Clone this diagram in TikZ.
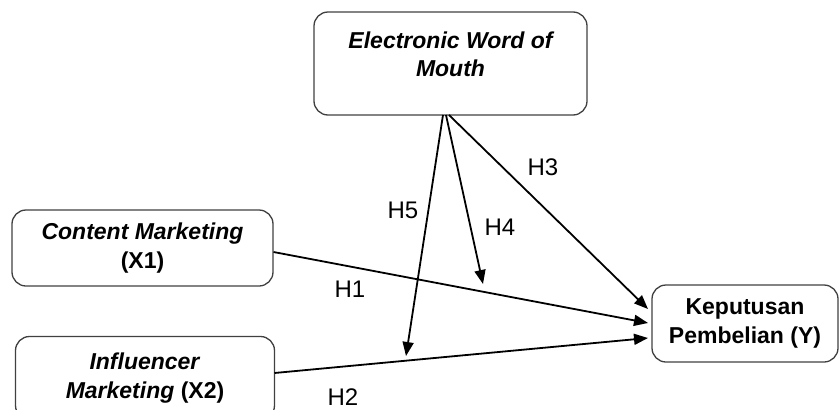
\documentclass[tikz,border=0pt]{standalone}
\usepackage{fontspec}
\setmainfont{Liberation Sans}
\usetikzlibrary{arrows.meta}
\begin{document}
\begin{tikzpicture}[x=1pt,y=-1pt,
  varbox/.style={draw=black!75, line width=1.3pt, rounded corners=14pt, inner sep=0pt, align=center, font=\fontsize{23}{29}\selectfont\bfseries},
  hyp/.style={font=\fontsize{24}{28}\selectfont, inner sep=0pt},
  conn/.style={line width=1.8pt, -{Triangle[length=14pt,width=11pt]}}]
\useasboundingbox (0,0) rectangle (839,410);
\clip (0,0) rectangle (839,410);
% boxes
\node[varbox, minimum width=273pt, minimum height=103pt] (ew) at (450.5,63.5) {};
\node[font=\fontsize{23}{28}\selectfont\bfseries\itshape, align=center, inner sep=0pt] (ewt) at (450.5,54) {Electronic Word of\\Mouth};
\node[varbox, minimum width=261pt, minimum height=76pt] (cm) at (142.5,248) {\textit{Content Marketing}\\(X1)};
\node[varbox, minimum width=259pt, minimum height=83pt] (im) at (145,378) {\textit{Influencer}\\\textit{Marketing} (X2)};
\node[varbox, minimum width=186pt, minimum height=77pt] (kp) at (745,323.5) {Keputusan\\Pembelian (Y)};
% connector end points
\coordinate (ew5) at (443,115);
\coordinate (ew4) at (446,115);
\coordinate (ew3) at (449,115);
\coordinate (cmE) at (273.5,252);
\coordinate (imE) at (274.5,373);
\coordinate (kp3) at (648,309);
\coordinate (kp1) at (648,323);
\coordinate (kp2) at (648,338);
\coordinate (h4end) at (483,284);
\coordinate (h5end) at (406,356);
% connectors
\draw[conn] (ew3) -- (kp3);
\draw[conn] (ew4) -- (h4end);
\draw[conn] (ew5) -- (h5end);
\draw[conn] (cmE) -- (kp1);
\draw[conn] (imE) -- (kp2);
% labels
\node[hyp] (l3) at (543,167) {H3};
\node[hyp] (l4) at (500,227) {H4};
\node[hyp] (l5) at (403,210) {H5};
\node[hyp] (l1) at (350,289) {H1};
\node[hyp] (l2) at (343,397) {H2};
\end{tikzpicture}
\end{document}
